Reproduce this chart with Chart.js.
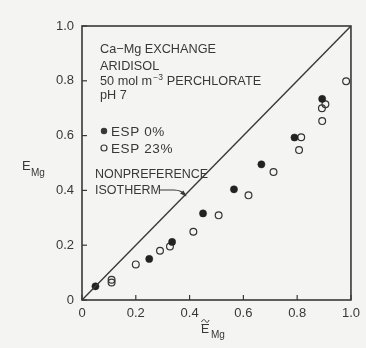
<!DOCTYPE html>
<html>
<head>
<meta charset="utf-8">
<script src="https://cdn.jsdelivr.net/npm/chart.js@4/dist/chart.umd.min.js"></script>
<style>
  html, body { margin: 0; padding: 0; background: #f4f4f2; }
  #wrap { width: 366px; height: 348px; }
</style>
</head>
<body>
<div id="wrap"><canvas id="chart" width="366" height="348"></canvas></div>
<script>
// values (equivalent fraction in solution vs exchanger)
const esp0X = [0.05, 0.25, 0.335, 0.45, 0.565, 0.667, 0.79, 0.893];
const esp0Y = [0.05, 0.15, 0.212, 0.316, 0.404, 0.495, 0.593, 0.734];

const esp23X = [0.11, 0.11, 0.20, 0.29, 0.327, 0.414, 0.508, 0.619, 0.712, 0.815, 0.807, 0.905, 0.892, 0.893, 0.982];
const esp23Y = [0.074, 0.064, 0.13, 0.18, 0.195, 0.249, 0.309, 0.382, 0.467, 0.594, 0.547, 0.714, 0.70, 0.653, 0.798];

const isothermX = [0, 1];
const isothermY = [0, 1];

const tickValues = [0, 0.2, 0.4, 0.6, 0.8, 1.0];
const tickLabels = ['0', '0.2', '0.4', '0.6', '0.8', '1.0'];

const ink = '#383838';
const fontFam = '"Liberation Sans", Arial, sans-serif';

const toPoints = (xs, ys) => xs.map((x, i) => ({ x: x, y: ys[i] }));

// frame, inward ticks, annotations and axis titles
const decorations = {
  id: 'decorations',
  afterDraw(chart) {
    const ctx = chart.ctx;
    const a = chart.chartArea;
    const xs = chart.scales.x;
    const ys = chart.scales.y;
    ctx.save();
    ctx.strokeStyle = ink;
    ctx.lineWidth = 1.6;
    ctx.strokeRect(a.left, a.top, a.right - a.left, a.bottom - a.top);

    ctx.lineWidth = 1.2;
    tickValues.forEach(v => {
      const px = xs.getPixelForValue(v);
      ctx.beginPath();
      ctx.moveTo(px, a.bottom);
      ctx.lineTo(px, a.bottom - 5);
      ctx.stroke();
      const py = ys.getPixelForValue(v);
      ctx.beginPath();
      ctx.moveTo(a.left, py);
      ctx.lineTo(a.left + 5, py);
      ctx.stroke();
    });

    ctx.fillStyle = ink;
    ctx.font = '12.7px ' + fontFam;
    ctx.textBaseline = 'alphabetic';
    ctx.textAlign = 'left';
    ctx.fillText('Ca\u2212Mg EXCHANGE', 100, 53);
    ctx.fillText('ARIDISOL', 100, 70);
    ctx.fillText('50 mol m', 100, 85);
    let w = ctx.measureText('50 mol m').width;
    ctx.font = '8.5px ' + fontFam;
    ctx.fillText('\u22123', 100 + w + 1, 80);
    let w2 = ctx.measureText('\u22123').width;
    ctx.font = '12.7px ' + fontFam;
    ctx.fillText('PERCHLORATE', 100 + w + w2 + 5, 85);
    ctx.fillText('pH 7', 100, 99);

    ctx.font = '13.5px ' + fontFam;
    ctx.letterSpacing = '0.6px';
    ctx.fillText('ESP 0%', 111, 136);
    ctx.fillText('ESP 23%', 111, 153);
    ctx.letterSpacing = '0px';
    ctx.beginPath();
    ctx.arc(104, 131, 3.2, 0, Math.PI * 2);
    ctx.fill();
    ctx.beginPath();
    ctx.lineWidth = 1.2;
    ctx.arc(104, 148, 3, 0, Math.PI * 2);
    ctx.stroke();

    ctx.font = '12.5px ' + fontFam;
    ctx.fillText('NONPREFERENCE', 95, 178);
    ctx.fillText('ISOTHERM', 95, 194);
    // pointer to the diagonal
    ctx.lineWidth = 1.1;
    ctx.beginPath();
    ctx.moveTo(159, 190);
    ctx.lineTo(174, 190);
    ctx.quadraticCurveTo(182, 190, 186, 196);
    ctx.stroke();
    ctx.beginPath();
    ctx.moveTo(186.5, 196.5);
    ctx.lineTo(180, 193.5);
    ctx.lineTo(183.5, 190.5);
    ctx.closePath();
    ctx.fill();

    // y title
    ctx.font = '13px ' + fontFam;
    ctx.fillText('E', 22, 170);
    ctx.font = '10px ' + fontFam;
    ctx.fillText('Mg', 31, 176);

    // x title with tilde
    ctx.font = '12px ' + fontFam;
    ctx.fillText('E', 201, 333);
    ctx.font = '10px ' + fontFam;
    ctx.fillText('Mg', 211, 338);
    ctx.lineWidth = 1;
    ctx.beginPath();
    ctx.moveTo(201.5, 322);
    ctx.bezierCurveTo(203, 319, 204.5, 319, 205.5, 321);
    ctx.bezierCurveTo(206.5, 323, 208, 323, 209, 320);
    ctx.stroke();
    ctx.beginPath();
    ctx.moveTo(201.5, 324.5);
    ctx.lineTo(209, 324.5);
    ctx.stroke();
    ctx.restore();
  }
};

const bgFill = {
  id: 'bgFill',
  beforeDraw(chart) {
    const ctx = chart.ctx;
    ctx.save();
    ctx.fillStyle = '#f4f4f2';
    ctx.fillRect(0, 0, chart.width, chart.height);
    ctx.restore();
  }
};

new Chart(document.getElementById('chart'), {
  type: 'scatter',
  data: {
    datasets: [
      {
        type: 'line',
        label: 'Nonpreference isotherm',
        data: toPoints(isothermX, isothermY),
        borderColor: ink,
        borderWidth: 1.4,
        pointRadius: 0,
        fill: false
      },
      {
        label: 'ESP 0%',
        data: toPoints(esp0X, esp0Y),
        pointRadius: 3.6,
        pointBackgroundColor: '#222',
        pointBorderColor: '#222',
        pointBorderWidth: 0.5
      },
      {
        label: 'ESP 23%',
        data: toPoints(esp23X, esp23Y),
        pointRadius: 3.4,
        pointBackgroundColor: 'rgba(0,0,0,0)',
        pointBorderColor: '#333',
        pointBorderWidth: 1.2
      }
    ]
  },
  options: {
    responsive: false,
    animation: false,
    layout: { padding: { left: 0, top: 26, right: 7, bottom: 0 } },
    plugins: { legend: { display: false }, tooltip: { enabled: false } },
    scales: {
      x: {
        type: 'linear',
        min: 0, max: 1,
        afterFit: s => { s.height = 48; },
        afterBuildTicks: s => { s.ticks = tickValues.map(v => ({ value: v })); },
        grid: { display: false, drawTicks: false },
        border: { display: false },
        ticks: {
          color: ink,
          padding: 6,
          font: { family: fontFam, size: 13 },
          callback: (v) => tickLabels[tickValues.indexOf(Math.round(v * 10) / 10)]
        }
      },
      y: {
        type: 'linear',
        min: 0, max: 1,
        afterFit: s => { s.width = 82; },
        afterBuildTicks: s => { s.ticks = tickValues.map(v => ({ value: v })); },
        grid: { display: false, drawTicks: false },
        border: { display: false },
        ticks: {
          color: ink,
          padding: 8,
          font: { family: fontFam, size: 13 },
          callback: (v) => tickLabels[tickValues.indexOf(Math.round(v * 10) / 10)]
        }
      }
    }
  },
  plugins: [bgFill, decorations]
});
</script>
</body>
</html>
